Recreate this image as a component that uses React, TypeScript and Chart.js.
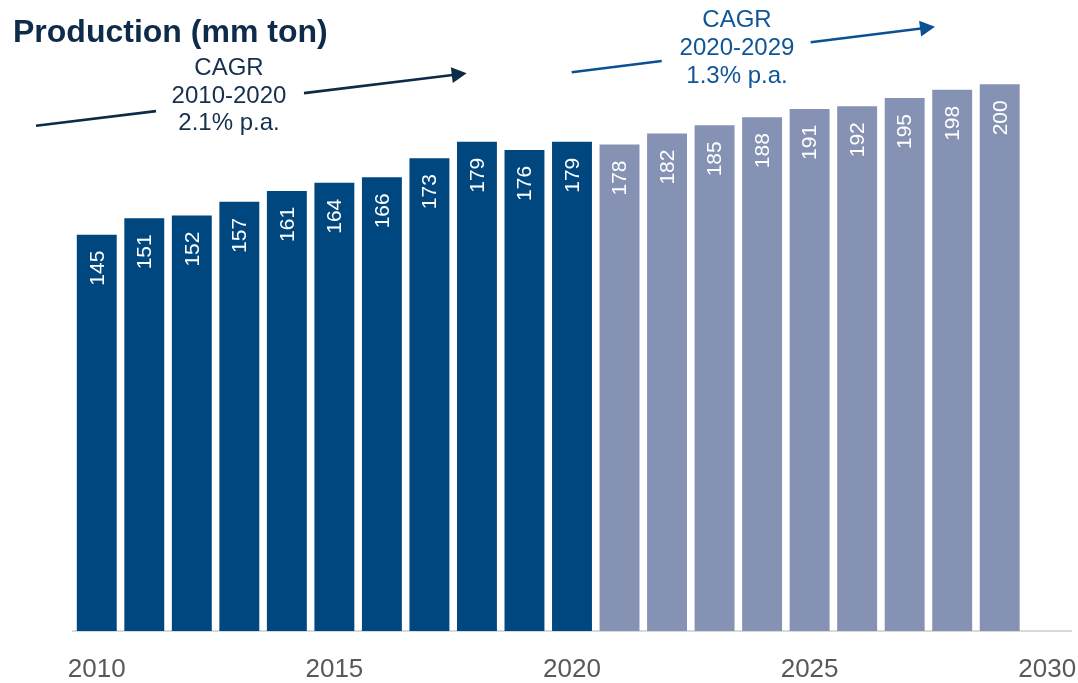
import React, { useEffect, useRef } from "react";
import { Chart, registerables } from "chart.js";

Chart.register(...registerables);

const years = [
  "2010", "2011", "2012", "2013", "2014", "2015", "2016", "2017", "2018", "2019",
  "2020", "2021", "2022", "2023", "2024", "2025", "2026", "2027", "2028", "2029", "2030",
];
const historical = [145, 151, 152, 157, 161, 164, 166, 173, 179, 176, 179];
const forecast = [178, 182, 185, 188, 191, 192, 195, 198, 200];
const tickYears = ["2010", "2015", "2020", "2025", "2030"];

const titleText = "Production (mm ton)";
const cagr1Lines = ["CAGR", "2010-2020", "2.1% p.a."];
const cagr2Lines = ["CAGR", "2020-2029", "1.3% p.a."];

const DARK = "#00467f";
const LIGHT = "#8592b4";
const FONT = '"Liberation Sans", Arial, Helvetica, sans-serif';

const values: (number | null)[] = [...historical, ...forecast, null];
const colors = values.map((_, i) => (i < historical.length ? DARK : LIGHT));

function drawArrow(
  ctx: CanvasRenderingContext2D,
  x0: number, y0: number, x1: number, y1: number,
  gapFrom: number, gapTo: number, color: string
) {
  const dx = x1 - x0;
  const dy = y1 - y0;
  const len = Math.hypot(dx, dy);
  const ux = dx / len;
  const uy = dy / len;
  const headLen = 15;
  const headHalf = 8;
  const yAt = (x: number) => y0 + (dy / dx) * (x - x0);
  const bx = x1 - ux * headLen;
  const by = y1 - uy * headLen;
  ctx.save();
  ctx.strokeStyle = color;
  ctx.fillStyle = color;
  ctx.lineWidth = 2.6;
  ctx.lineCap = "butt";
  ctx.beginPath();
  ctx.moveTo(x0, y0);
  ctx.lineTo(gapFrom, yAt(gapFrom));
  ctx.moveTo(gapTo, yAt(gapTo));
  ctx.lineTo(bx + ux, by + uy);
  ctx.stroke();
  ctx.beginPath();
  ctx.moveTo(x1, y1);
  ctx.lineTo(bx - uy * headHalf, by + ux * headHalf);
  ctx.lineTo(bx + uy * headHalf, by - ux * headHalf);
  ctx.closePath();
  ctx.fill();
  ctx.restore();
}

const labelPlugin = {
  id: "barLabels",
  afterDatasetsDraw(chart: any) {
    const ctx: CanvasRenderingContext2D = chart.ctx;
    const meta = chart.getDatasetMeta(0);
    ctx.save();
    ctx.fillStyle = "#ffffff";
    ctx.font = `21px ${FONT}`;
    ctx.textAlign = "right";
    ctx.textBaseline = "middle";
    meta.data.forEach((bar: any, i: number) => {
      const v = values[i];
      if (v == null) return;
      ctx.save();
      ctx.translate(bar.x, bar.y + 16);
      ctx.rotate(-Math.PI / 2);
      ctx.fillText(String(v), 0, 1);
      ctx.restore();
    });
    ctx.restore();
  },
};

const annotationPlugin = {
  id: "annotations",
  afterDraw(chart: any) {
    const ctx: CanvasRenderingContext2D = chart.ctx;
    ctx.save();
    // title
    ctx.fillStyle = "#0e2c4a";
    ctx.font = `bold 32px ${FONT}`;
    ctx.textAlign = "left";
    ctx.textBaseline = "alphabetic";
    ctx.fillText(titleText, 13, 42);

    // CAGR 1
    ctx.font = `24px ${FONT}`;
    ctx.textAlign = "center";
    ctx.fillStyle = "#14304d";
    cagr1Lines.forEach((t, i) => ctx.fillText(t, 229, 75 + i * 27.5));
    // CAGR 2
    ctx.fillStyle = "#0f5597";
    cagr2Lines.forEach((t, i) => ctx.fillText(t, 737, 27 + i * 28));
    ctx.restore();

    drawArrow(ctx, 36, 125.7, 466.7, 73.3, 156, 304, "#0c2b47");
    drawArrow(ctx, 571.7, 72.3, 935, 26.7, 661.7, 810.7, "#0a5192");
  },
};

export default function App() {
  const canvasRef = useRef<HTMLCanvasElement | null>(null);

  useEffect(() => {
    const canvas = canvasRef.current;
    if (!canvas) return;
    const chart = new Chart(canvas, {
      type: "bar",
      data: {
        labels: years,
        datasets: [
          {
            data: values,
            backgroundColor: colors,
            borderWidth: 0,
            barPercentage: 0.84,
            categoryPercentage: 1,
          },
        ],
      },
      options: {
        responsive: false,
        animation: false,
        layout: { padding: { left: 73, right: 7, top: 16, bottom: 0 } },
        plugins: {
          legend: { display: false },
          tooltip: { enabled: false },
          title: { display: false },
        },
        scales: {
          x: {
            offset: true,
            grid: {
              display: true,
              drawOnChartArea: false,
              drawTicks: true,
              tickLength: 23,
              color: "rgba(0,0,0,0)",
              tickColor: "rgba(0,0,0,0)",
            },
            border: { display: true, color: "#d9d9d9", width: 2 },
            ticks: {
              autoSkip: false,
              maxRotation: 0,
              minRotation: 0,
              padding: 0,
              color: "#595959",
              font: { family: FONT, size: 26 },
              callback: (_v: any, index: number) =>
                tickYears.includes(years[index]) ? years[index] : "",
            },
            afterFit: (scale: any) => {
              scale.height = 52;
            },
          },
          y: {
            display: false,
            min: 0,
            max: 225,
          },
        },
      },
      plugins: [labelPlugin, annotationPlugin],
    });
    return () => chart.destroy();
  }, []);

  return (
    <div style={{ position: "fixed", left: 0, top: 0, width: 1078, height: 683, background: "#ffffff" }}>
      <canvas ref={canvasRef} width={1078} height={683} style={{ display: "block" }} />
    </div>
  );
}
